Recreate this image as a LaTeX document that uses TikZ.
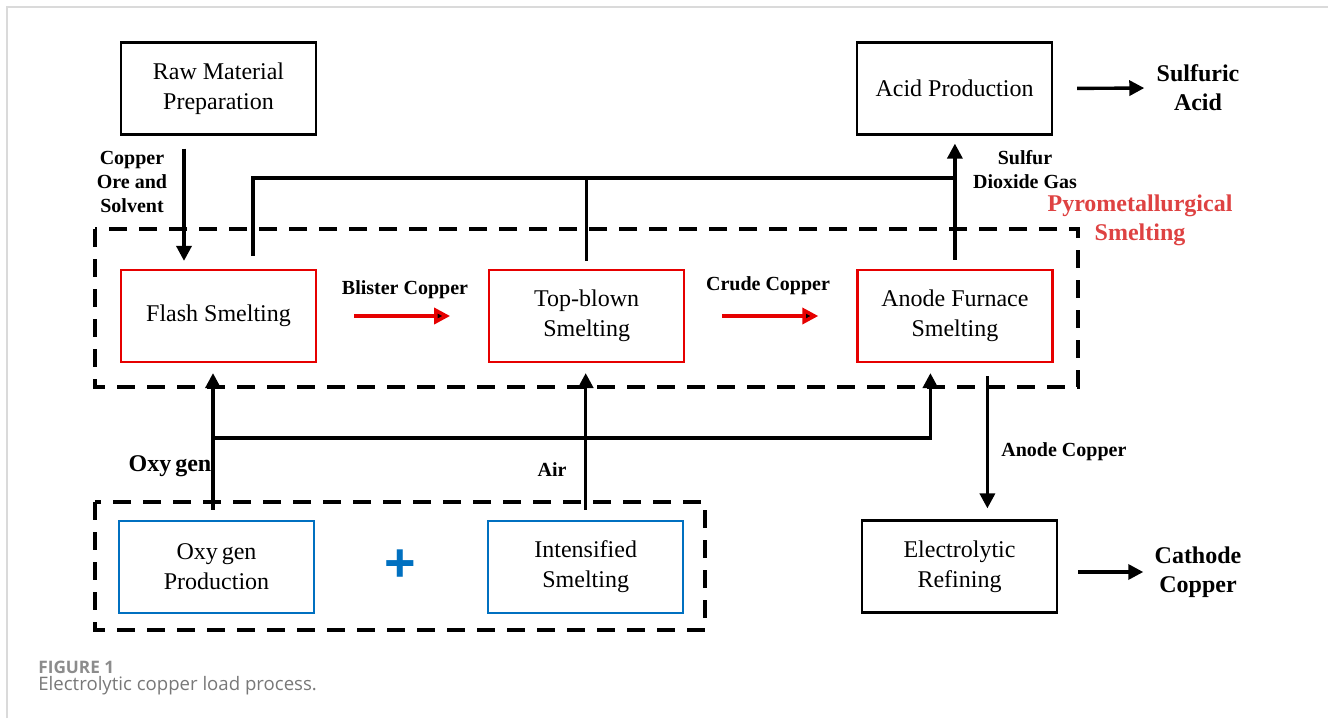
\documentclass[tikz,border=0pt]{standalone}
\usepackage{fontspec}
\setmainfont{Liberation Serif}
\newfontfamily\capfont{Open Sans}
\newfontfamily\plusfont{Liberation Sans}
\usetikzlibrary{arrows.meta}
\usetikzlibrary{positioning}
\definecolor{pyrored}    {RGB}{230,0,0}
\definecolor{pyrotext}   {RGB}{222,66,66}
\definecolor{supplyblue} {RGB}{0,112,192}
\definecolor{framegray}  {RGB}{218,218,218}
\definecolor{capgray}    {RGB}{120,120,120}
\tikzset{process box/.style={
    node distance=85.5pt,
    rectangle, draw=black, line width=1.1pt,
    minimum width=97.5pt, minimum height=46pt,
    inner sep=0pt, align=center,
    font=\fontsize{12}{15}\selectfont
}}
\tikzset{smelting box/.style={
    process box, draw=pyrored
}}
\tikzset{supply box/.style={
    process box, draw=supplyblue
}}
\tikzset{stream label/.style={
    inner sep=1pt, align=center,
    font=\bfseries\fontsize{10}{12}\selectfont
}}
\tikzset{product label/.style={
    inner sep=1pt, align=center,
    font=\bfseries\fontsize{12}{14.5}\selectfont
}}
\tikzset{flow/.style={
    line width=1.7pt, -{Triangle[length=7.5pt,width=7.5pt]}
}}
\tikzset{pipe/.style={
    line width=1.7pt
}}
\tikzset{copper flow/.style={
    draw=pyrored, line width=1.8pt, -{Triangle[length=8pt,width=8pt]}
}}
\tikzset{stage frame/.style={
    draw=black, line width=1.6pt, dash pattern=on 9pt off 6pt
}}

\begin{document}
\begin{tikzpicture}[x=0.5pt,y=-0.5pt]
            \useasboundingbox (0,0) rectangle (1328,718);
            \draw [framegray, line width=0.6pt] (7,718) -- (7,7) -- (1328,7);

            % frames
            \draw [stage frame] (95,229) rectangle (1078,387);
            \draw [stage frame] (95,502) rectangle (705,630);

            \node (raw)      [process box]   at(218.5,88.5) {Raw Material\\Preparation};
            \node (acid)     [process box]   at(954.5,88.5) {Acid Production};
            \node (flash)    [smelting box]  at(218.5,316)  {Flash Smelting};
            \node (topblown) [smelting box]  [right=of flash] {Top-blown\\Smelting};
            \node (anode)    [smelting box]  [right=of topblown] {Anode Furnace\\Smelting};
            \node (oxyprod)  [supply box]    at(216.5,567)  {Oxy\,gen\\Production};
            \node (intens)   [supply box, node distance=86pt] [right=of oxyprod] {Intensified\\Smelting};
            \node (electro)  [process box]   at(959.5,566.5) {Electrolytic\\Refining};

            \node (plus)     [text=supplyblue, inner sep=0pt, font=\plusfont\bfseries\fontsize{27}{27}\selectfont] at(400,566) {+};

            \node (sulfuric) [product label] at(1198,88)  {Sulfuric\\Acid};
            \node (cathode)  [product label] at(1198,572) {Cathode\\Copper};
            \node (pyro)     [product label, text=pyrotext] at(1140,220) {Pyrometallurgical\\Smelting};
            \node (oxygen)   [product label] at(170,466)  {Oxy\,gen};

            \node (ore)      [stream label]  at(132,182)  {Copper\\Ore and\\Solvent};
            \node (so2)      [stream label]  at(1025,170) {Sulfur\\Dioxide Gas};
            \node (blister)  [stream label]  at(405,290)  {Blister Copper};
            \node (crude)    [stream label]  at(768,286)  {Crude Copper};
            \node (air)      [stream label]  at(552,470)  {Air};
            \node (anodecu)  [stream label, anchor=west] at(999,452) {Anode Copper};

            \coordinate (gasjoint) at(956,178);
            \coordinate (o2joint)  at(213,438);

            % edges
            \draw [flow, shorten <=6.5pt, shorten >=4pt]
              ([xshift=-17.25pt]raw.south) -- ([xshift=-17.25pt]flash.north);
            \draw [pipe, shorten <=6.5pt]
              ([xshift=17.25pt]flash.north) |- (gasjoint);
            \draw [pipe, shorten <=4pt]
              (topblown.north) -- (topblown.north |- gasjoint);
            \draw [flow, shorten <=4.5pt, shorten >=4pt]
              (anode.north) -- (anode.north |- acid.south);

            \path [copper flow, shorten <=18.5pt, shorten >=19pt]
              (flash) edge (topblown)
              (topblown) edge (anode);

            \draw [flow, shorten <=5pt, shorten >=5pt]
              ([xshift=-1.75pt]oxyprod.north) -- ([xshift=-1.75pt]oxyprod.north |- flash.south);
            \draw [flow, shorten >=5pt]
              (o2joint) -| ([xshift=-12.25pt]anode.south);
            \draw [flow, shorten <=5pt, shorten >=5pt]
              (intens.north) -- (intens.north |- topblown.south);
            \draw [flow, shorten <=6.5pt, shorten >=5.5pt]
              ([xshift=16.25pt]anode.south) -- ([xshift=16.25pt]anode.south |- electro.north);

            \draw [flow, shorten <=12pt, shorten >=5pt]
              (acid.east) -- (sulfuric.west);
            \draw [flow, shorten <=10pt, shorten >=4.5pt]
              (electro.east |- cathode) -- (cathode.west);

            % caption
            \node (figno)   [anchor=west, inner sep=0pt, text=capgray!85, font=\capfont\bfseries\fontsize{8.6}{10}\selectfont] at(38,667) {FIGURE 1};
            \node (figtext) [anchor=west, inner sep=0pt, text=capgray, font=\capfont\fontsize{9.3}{11}\selectfont] at(38,686) {Electrolytic copper load process.};
        \end{tikzpicture}
\end{document}
